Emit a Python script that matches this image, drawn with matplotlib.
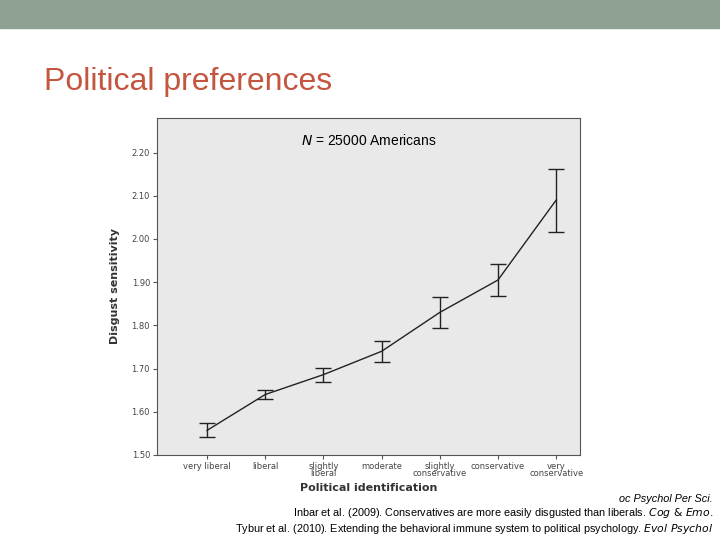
import numpy as np
import matplotlib.pyplot as plt

# political identification categories and disgust sensitivity means
categories = ['very liberal', 'liberal', 'slightly\nliberal', 'moderate',
              'slightly\nconservative', 'conservative', 'very\nconservative']
means = [1.557, 1.640, 1.686, 1.740, 1.830, 1.905, 2.090]
err_low = [1.541, 1.630, 1.670, 1.716, 1.795, 1.869, 2.017]
err_high = [1.573, 1.650, 1.702, 1.763, 1.866, 1.943, 2.163]
yticks = [1.50, 1.60, 1.70, 1.80, 1.90, 2.00, 2.10, 2.20]

fig = plt.figure(figsize=(7.2, 5.4), dpi=100)
fig.patch.set_facecolor('white')

# top band of the slide
fig.add_artist(plt.Rectangle((0, 1 - 28/540), 1, 28/540, transform=fig.transFigure,
                             color='#8fa193', zorder=0))
fig.text(44/720, 1 - 82/540, 'Political preferences', fontsize=23, color='#c4553f',
         va='center', ha='left', family='Liberation Sans')

ax = fig.add_axes([157/720, 1 - 455/540, 423/720, 337/540])
ax.set_facecolor('#e9e9e9')
x = np.arange(len(categories))
m = np.array(means)
yerr = [m - np.array(err_low), np.array(err_high) - m]
ax.errorbar(x, m, yerr=yerr, color='#222222', lw=1.0, capsize=6, capthick=1.0, elinewidth=1.0)

ax.set_xlim(-0.86, 6.41)
ax.set_ylim(1.50, 2.28)
ax.set_yticks(yticks)
ax.set_yticklabels(['%.2f' % v for v in yticks], fontsize=6, color='#444444')
ax.set_xticks(x)
ax.set_xticklabels(categories, fontsize=6, color='#444444', linespacing=0.7)
ax.tick_params(length=3, color='#555555', pad=2)
for s in ax.spines.values():
    s.set_color('#555555')
ax.set_ylabel('Disgust sensitivity', fontsize=8, fontweight='bold', color='#333333', labelpad=8)
ax.set_xlabel('Political identification', fontsize=8, fontweight='bold', color='#333333', labelpad=4)
ax.text(0.5, 0.955, '$N$ = 25000 Americans', transform=ax.transAxes, ha='center', va='top',
        fontsize=10, family='Liberation Sans')

foot = dict(fontsize=7.8, ha='right', va='center', family='Liberation Sans')
fig.text(713/720, 1 - 499/540, 'oc Psychol Per Sci.', style='italic', **foot)
fig.text(713/720, 1 - 513/540, 'Inbar et al. (2009). Conservatives are more easily disgusted than liberals. $\\it{Cog\\ &\\ Emo.}$',
         **foot)
fig.text(713/720, 1 - 529/540, 'Tybur et al. (2010). Extending the behavioral immune system to political psychology. $\\it{Evol\\ Psychol}$',
         **foot)

plt.savefig('out.png', dpi=100)
